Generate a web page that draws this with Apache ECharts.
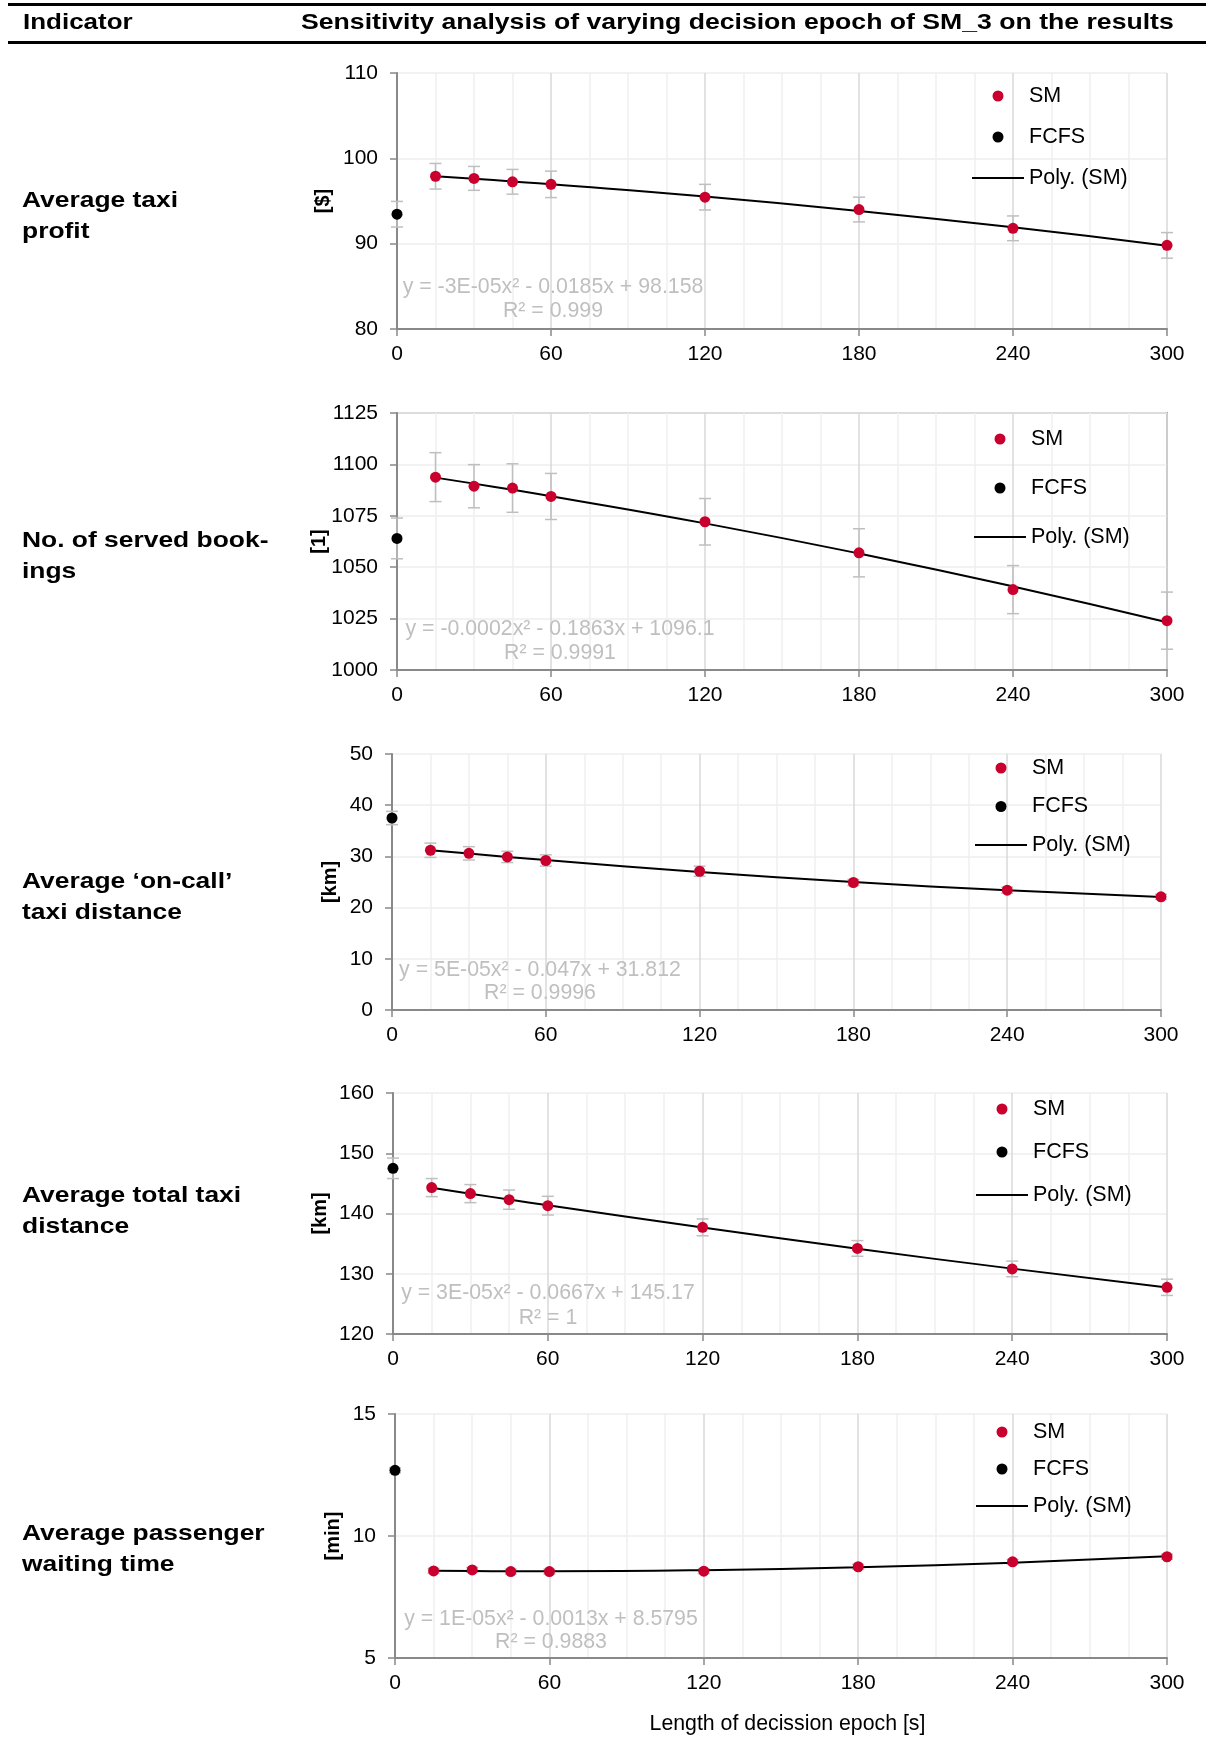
<!DOCTYPE html>
<html>
<head>
<meta charset="utf-8">
<title>Sensitivity analysis of varying decision epoch of SM_3</title>
<style>
	html,body{margin:0;padding:0;background:#fff;}
	#main{width:1206px;height:1737px;}
</style>
</head>
<body>
<div id="main"></div>
<script src="https://cdn.jsdelivr.net/npm/echarts@6/dist/echarts.min.js"></script>
<script>
// ---- data ----
var epochs = [15, 30, 45, 60, 120, 180, 240, 300];
var fcfsEpoch = 0;

var indicators = ['Average taxi\nprofit', 'No. of served book-\nings', 'Average \u2018on-call\u2019\ntaxi distance', 'Average total taxi\ndistance', 'Average passenger\nwaiting time'];
var units = ['[$]', '[1]', '[km]', '[km]', '[min]'];

var profitSM = [97.9, 97.65, 97.25, 96.95, 95.45, 94.0, 91.8, 89.8];
var profitErr = [1.5, 1.4, 1.45, 1.55, 1.5, 1.45, 1.45, 1.5];
var profitFCFS = 93.45, profitFCFSErr = 1.5;

var bookingsSM = [1093.8, 1089.4, 1088.5, 1084.4, 1072.1, 1057.0, 1039.1, 1024.0];
var bookingsErr = [11.9, 10.5, 11.8, 11.2, 11.3, 11.7, 11.7, 13.9];
var bookingsFCFS = 1064.0, bookingsFCFSErr = 9.9;

var onCallSM = [31.2, 30.6, 29.9, 29.2, 27.1, 24.9, 23.4, 22.1];
var onCallErr = [1.4, 1.3, 1.1, 1.1, 1.0, 0.6, 0.6, 0.5];
var onCallFCFS = 37.5, onCallFCFSErr = 1.3;

var totalSM = [144.3, 143.3, 142.3, 141.3, 137.7, 134.2, 130.8, 127.75];
var totalErr = [1.5, 1.5, 1.6, 1.55, 1.4, 1.3, 1.3, 1.35];
var totalFCFS = 147.5, totalFCFSErr = 1.7;

var waitSM = [8.57, 8.61, 8.54, 8.54, 8.56, 8.74, 8.94, 9.15];
var waitErr = [0.1, 0.1, 0.1, 0.1, 0.1, 0.1, 0.1, 0.1];
var waitFCFS = 12.69, waitFCFSErr = 0.1;

var yMin = [80, 1000, 0, 120, 5];
var yMax = [110, 1125, 50, 160, 15];
var yStep = [10, 25, 10, 10, 5];
var xTicks = [0, 60, 120, 180, 240, 300];

var equations = ['y = -3E-05x\u00b2 - 0.0185x + 98.158', 'y = -0.0002x\u00b2 - 0.1863x + 1096.1', 'y = 5E-05x\u00b2 - 0.047x + 31.812', 'y = 3E-05x\u00b2 - 0.0667x + 145.17', 'y = 1E-05x\u00b2 - 0.0013x + 8.5795'];
var rSquared = ['R\u00b2 = 0.999', 'R\u00b2 = 0.9991', 'R\u00b2 = 0.9996', 'R\u00b2 = 1', 'R\u00b2 = 0.9883'];

var smValues = [profitSM, bookingsSM, onCallSM, totalSM, waitSM];
var smErrors = [profitErr, bookingsErr, onCallErr, totalErr, waitErr];
var fcfsValues = [profitFCFS, bookingsFCFS, onCallFCFS, totalFCFS, waitFCFS];
var fcfsErrors = [profitFCFSErr, bookingsFCFSErr, onCallFCFSErr, totalFCFSErr, waitFCFSErr];

// ---- layout ----
var FONT = 'Liberation Sans, Arial, Helvetica, sans-serif';
var RED = '#c9002e';
var boxes = [
	{left: 397, top: 73, right: 1167, bottom: 329},
	{left: 397, top: 413, right: 1167, bottom: 670},
	{left: 392, top: 754, right: 1161, bottom: 1010},
	{left: 393, top: 1093, right: 1167, bottom: 1334},
	{left: 395, top: 1414, right: 1167, bottom: 1658}
];
var nameGaps = [64, 68, 52, 63, 52];
var legendPos = [[998, 95, 40], [1000, 438, 48], [1001, 767, 37.5], [1002, 1108, 42], [1002, 1431, 36]];
var eqPos = [[553, 287, 311], [560, 629, 653], [540, 970, 993], [548, 1293, 1318], [551, 1619, 1642]];
var labelPos = [201, 541, 882, 1196, 1534];

// quadratic least squares, same as the spreadsheet trendline
function polyFit(xs, ys) {
	var s = [0, 0, 0, 0, 0], t = [0, 0, 0];
	for (var i = 0; i < xs.length; i++) {
		var p = 1;
		for (var k = 0; k < 5; k++) { s[k] += p; if (k < 3) t[k] += p * ys[i]; p *= xs[i]; }
	}
	var m = [[s[0], s[1], s[2], t[0]], [s[1], s[2], s[3], t[1]], [s[2], s[3], s[4], t[2]]];
	for (var c = 0; c < 3; c++) {
		for (var r = c + 1; r < 3; r++) {
			var f = m[r][c] / m[c][c];
			for (var j = c; j < 4; j++) m[r][j] -= f * m[c][j];
		}
	}
	var co = [0, 0, 0];
	for (var r2 = 2; r2 >= 0; r2--) {
		var v = m[r2][3];
		for (var j2 = r2 + 1; j2 < 3; j2++) v -= m[r2][j2] * co[j2];
		co[r2] = v / m[r2][r2];
	}
	return co;
}

function renderErr(params, api) {
	var x = api.value(0);
	var lo = api.coord([x, api.value(1)]);
	var hi = api.coord([x, api.value(2)]);
	var w = 6;
	var st = {stroke: '#bfbfbf', lineWidth: 1.5};
	return {type: 'group', children: [
		{type: 'line', shape: {x1: lo[0], y1: lo[1], x2: hi[0], y2: hi[1]}, style: st},
		{type: 'line', shape: {x1: lo[0] - w, y1: lo[1], x2: lo[0] + w, y2: lo[1]}, style: st},
		{type: 'line', shape: {x1: hi[0] - w, y1: hi[1], x2: hi[0] + w, y2: hi[1]}, style: st}
	]};
}

var grids = [], xAxes = [], yAxes = [], series = [], legends = [], graphics = [];

graphics.push({type: 'rect', shape: {x: 8, y: 3, width: 1198, height: 3}, style: {fill: '#000'}});
graphics.push({type: 'rect', shape: {x: 8, y: 41, width: 1198, height: 3}, style: {fill: '#000'}});
graphics.push({type: 'text', x: 23, y: 23, scaleX: 1.18, style: {text: 'Indicator', font: 'bold 22px ' + FONT, fill: '#000', textVerticalAlign: 'middle'}});
graphics.push({type: 'text', x: 301, y: 23, scaleX: 1.21, style: {text: 'Sensitivity analysis of varying decision epoch of SM_3 on the results', font: 'bold 22px ' + FONT, fill: '#000', textVerticalAlign: 'middle'}});

for (var i = 0; i < 5; i++) {
	var b = boxes[i];
	grids.push({left: b.left, top: b.top, width: b.right - b.left, height: b.bottom - b.top,
		show: i === 1, borderColor: '#a6a6a6', borderWidth: 2, backgroundColor: 'transparent'});
	xAxes.push({
		type: 'value', gridIndex: i, min: xTicks[0], max: xTicks[xTicks.length - 1], interval: 60,
		axisLine: {show: true, onZero: false, lineStyle: {color: '#898989', width: 2}},
		axisTick: {show: true, length: 7, lineStyle: {color: '#898989', width: 1.5}},
		axisLabel: {fontSize: 21, color: '#000', fontFamily: FONT, margin: 15},
		splitLine: {show: true, lineStyle: {color: '#d9d9d9', width: 1.5}},
		minorTick: {show: false, splitNumber: 4},
		minorSplitLine: {show: true, lineStyle: {color: '#efefef', width: 1.5}},
		name: i === 4 ? 'Length of decission epoch [s]' : '',
		nameLocation: 'middle', nameGap: 56, nameMoveOverlap: false,
		nameTextStyle: {fontSize: 21.3, color: '#000', fontFamily: FONT, padding: [0, 0, 0, 13]}
	});
	yAxes.push({
		type: 'value', gridIndex: i, min: yMin[i], max: yMax[i], interval: yStep[i],
		axisLine: {show: true, lineStyle: {color: '#898989', width: 2}},
		axisTick: {show: true, length: 7, lineStyle: {color: '#898989', width: 1.5}},
		axisLabel: {fontSize: 21, color: '#000', fontFamily: FONT, margin: 19,
			formatter: function (v) { return String(v); }},
		splitLine: {show: true, lineStyle: {color: '#eeeeee', width: 1.5}},
		name: units[i], nameLocation: 'middle', nameRotate: 90, nameGap: nameGaps[i], nameMoveOverlap: false,
		nameTextStyle: {fontSize: 20, fontWeight: 'bold', color: '#000', fontFamily: FONT}
	});

	var errData = [[fcfsEpoch, fcfsValues[i] - fcfsErrors[i], fcfsValues[i] + fcfsErrors[i]]];
	var smData = [];
	for (var k = 0; k < epochs.length; k++) {
		errData.push([epochs[k], smValues[i][k] - smErrors[i][k], smValues[i][k] + smErrors[i][k]]);
		smData.push([epochs[k], smValues[i][k]]);
	}
	var co = polyFit(epochs, smValues[i]);
	var fitData = epochs.map(function (x) { return [x, co[0] + co[1] * x + co[2] * x * x]; });

	series.push({type: 'custom', name: 'err' + i, xAxisIndex: i, yAxisIndex: i, renderItem: renderErr,
		encode: {x: 0, y: [1, 2]}, data: errData, z: 2, silent: true});
	series.push({type: 'line', name: 'Poly. (SM)', xAxisIndex: i, yAxisIndex: i, data: fitData, smooth: true,
		symbol: 'none', lineStyle: {color: '#000', width: 2}, itemStyle: {color: '#000'}, z: 3, silent: true});
	series.push({type: 'scatter', name: 'SM', xAxisIndex: i, yAxisIndex: i, data: smData, symbol: 'circle',
		symbolSize: 11, itemStyle: {color: RED, opacity: 1}, z: 4});
	series.push({type: 'scatter', name: 'FCFS', xAxisIndex: i, yAxisIndex: i, data: [[fcfsEpoch, fcfsValues[i]]],
		symbol: 'circle', symbolSize: 11, itemStyle: {color: '#000', opacity: 1}, z: 4});

	var lp = legendPos[i];
	legends.push({
		orient: 'vertical', left: lp[0] - 26, top: lp[1] - 10, padding: 0, itemWidth: 52, itemHeight: 11,
		itemGap: lp[2] - 21, selectedMode: false,
		textStyle: {fontSize: 21.5, color: '#000', fontFamily: FONT, lineHeight: 21},
		data: [{name: 'SM', icon: 'circle'}, {name: 'FCFS', icon: 'circle'},
			{name: 'Poly. (SM)', icon: 'path://M0 0H100V4H0Z'}]
	});

	var ep = eqPos[i];
	graphics.push({type: 'text', x: ep[0], y: ep[1], z: 10, style: {text: equations[i], font: '21.3px ' + FONT, fill: '#bfbfbf', textAlign: 'center', textVerticalAlign: 'middle'}});
	graphics.push({type: 'text', x: ep[0], y: ep[2], z: 10, style: {text: rSquared[i], font: '21.3px ' + FONT, fill: '#bfbfbf', textAlign: 'center', textVerticalAlign: 'middle'}});
	graphics.push({type: 'text', x: 22, y: labelPos[i] - 15, scaleX: 1.2, style: {text: indicators[i], font: 'bold 22px ' + FONT, fill: '#000', lineHeight: 30.5, textVerticalAlign: 'top'}});
}

var chart = echarts.init(document.getElementById('main'), null, {renderer: 'canvas'});
chart.setOption({
	animation: false,
	backgroundColor: '#fff',
	grid: grids,
	xAxis: xAxes,
	yAxis: yAxes,
	legend: legends,
	series: series,
	graphic: graphics
});
</script>
</body>
</html>
